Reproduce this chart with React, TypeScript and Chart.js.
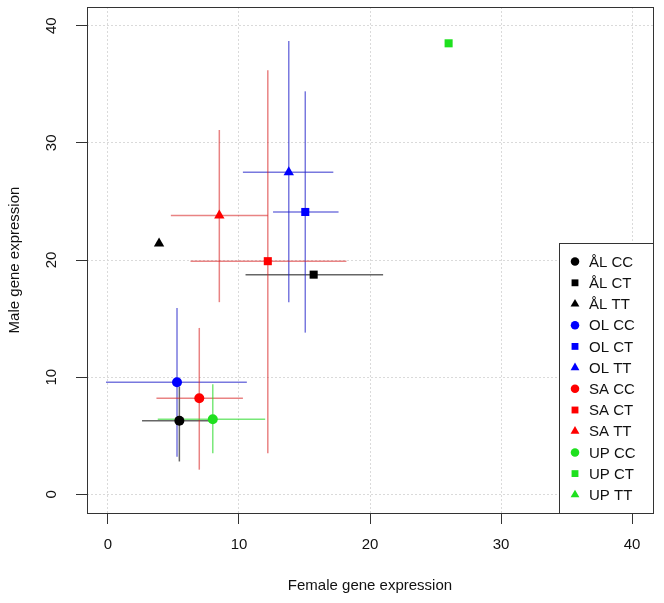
import React, { useEffect, useRef } from 'react';
import { Chart, registerables } from 'chart.js';

Chart.register(...registerables);

// ---- data ----
const groups = ['ÅL CC', 'ÅL CT', 'ÅL TT', 'OL CC', 'OL CT', 'OL TT', 'SA CC', 'SA CT', 'SA TT', 'UP CC', 'UP CT', 'UP TT'];
const femaleMean: (number | null)[] = [5.45, 15.7, 3.9, 5.27, 15.06, 13.8, 6.97, 12.2, 8.5, 8.0, 26.0, null];
const maleMean: (number | null)[] = [6.27, 18.75, 21.4, 9.57, 24.1, 27.5, 8.2, 19.9, 23.8, 6.4, 38.5, null];
const femaleLow: (number | null)[] = [2.6, 10.5, null, -0.15, 12.6, 10.3, 3.7, 6.3, 4.8, 3.8, null, null];
const femaleHigh: (number | null)[] = [8.0, 21.0, null, 10.6, 17.6, 17.2, 10.3, 18.2, 12.2, 12.0, null, null];
const maleLow: (number | null)[] = [2.8, null, null, 3.2, 13.8, 16.4, 2.1, 3.5, 16.4, 3.5, null, null];
const maleHigh: (number | null)[] = [9.2, null, null, 15.9, 34.4, 38.7, 14.2, 36.2, 31.1, 9.4, null, null];
const tickValues = [0, 10, 20, 30, 40];

// ---- styles ----
const pointColors = ['#000000', '#0000ff', '#ff0000', '#1ee01e'];
const barColors = ['rgba(0,0,0,0.6)', 'rgba(30,30,200,0.6)', 'rgba(215,30,30,0.55)', 'rgba(30,215,30,0.6)'];
const shapes = ['circle', 'rect', 'triangle'];
const radii = [5, 5.7, 6];
const FONT = "'Liberation Sans', Arial, Helvetica, sans-serif";

function drawShape(ctx: CanvasRenderingContext2D, shape: string, x: number, y: number, r: number, color: string) {
  ctx.save();
  ctx.fillStyle = color;
  ctx.beginPath();
  if (shape === 'circle') {
    ctx.arc(x, y, r, 0, Math.PI * 2);
  } else if (shape === 'rect') {
    const s = Math.SQRT1_2 * r;
    ctx.rect(x - s, y - s, 2 * s, 2 * s);
  } else {
    for (let k = 0; k < 3; k++) {
      const a = (k * 2 * Math.PI) / 3;
      const px = x + Math.sin(a) * r;
      const py = y - Math.cos(a) * r;
      if (k === 0) ctx.moveTo(px, py);
      else ctx.lineTo(px, py);
    }
    ctx.closePath();
  }
  ctx.fill();
  ctx.restore();
}

const errorBarPlugin = {
  id: 'errorBars',
  beforeDatasetsDraw(chart: any) {
    const { ctx, scales } = chart;
    const xs = scales.x;
    const ys = scales.y;
    ctx.save();
    ctx.lineWidth = 1.5;
    groups.forEach((_, i) => {
      const pop = Math.floor(i / 3);
      ctx.strokeStyle = barColors[pop];
      const fx = femaleMean[i];
      const my = maleMean[i];
      if (fx == null || my == null) return;
      const fl = femaleLow[i], fh = femaleHigh[i];
      if (fl != null && fh != null) {
        ctx.beginPath();
        ctx.moveTo(xs.getPixelForValue(fl), ys.getPixelForValue(my));
        ctx.lineTo(xs.getPixelForValue(fh), ys.getPixelForValue(my));
        ctx.stroke();
      }
      const ml = maleLow[i], mh = maleHigh[i];
      if (ml != null && mh != null) {
        ctx.beginPath();
        ctx.moveTo(xs.getPixelForValue(fx), ys.getPixelForValue(ml));
        ctx.lineTo(xs.getPixelForValue(fx), ys.getPixelForValue(mh));
        ctx.stroke();
      }
    });
    ctx.restore();
  },
};

const frameLegendPlugin = {
  id: 'frameLegend',
  afterDraw(chart: any) {
    const { ctx, chartArea } = chart;
    const { left, right, top, bottom } = chartArea;
    ctx.save();
    ctx.strokeStyle = '#333';
    ctx.lineWidth = 1;
    ctx.strokeRect(Math.round(left) + 0.5, Math.round(top) + 0.5, Math.round(right - left), Math.round(bottom - top));

    // legend box (bottom-right, inside plot)
    const rowH = 21.2;
    const padV = 9;
    const boxW = 94;
    const boxH = groups.length * rowH + padV * 2 - 2;
    const bx = Math.round(right - boxW);
    const by = Math.round(bottom - boxH);
    ctx.fillStyle = '#ffffff';
    ctx.fillRect(bx, by, boxW, boxH);
    ctx.strokeStyle = '#333';
    ctx.strokeRect(bx + 0.5, by + 0.5, Math.round(right) - bx, Math.round(bottom) - by);
    ctx.font = `15px ${FONT}`;
    ctx.textBaseline = 'middle';
    ctx.textAlign = 'left';
    groups.forEach((g, i) => {
      const pop = Math.floor(i / 3);
      const gen = i % 3;
      const cy = by + padV + rowH / 2 + i * rowH - 1;
      drawShape(ctx, shapes[gen], bx + 16, cy, radii[gen] * 0.85, pointColors[pop]);
      ctx.fillStyle = '#111';
      ctx.fillText(g, bx + 30, cy + 1);
    });
    ctx.restore();
  },
};

function makeTicks(scale: any) {
  scale.ticks = tickValues.map((v) => ({ value: v }));
}

function zeroPadding(s: any) {
  s.paddingTop = 0;
  s.paddingBottom = 0;
  s.paddingLeft = 0;
  s.paddingRight = 0;
}

export default function App() {
  const canvasRef = useRef<HTMLCanvasElement | null>(null);

  useEffect(() => {
    const canvas = canvasRef.current;
    if (!canvas) return;
    const datasets = groups.map((g, i) => {
      const pop = Math.floor(i / 3);
      const gen = i % 3;
      const fx = femaleMean[i];
      const my = maleMean[i];
      return {
        label: g,
        data: fx != null && my != null ? [{ x: fx, y: my }] : [],
        pointStyle: shapes[gen],
        pointRadius: radii[gen],
        pointHoverRadius: radii[gen],
        backgroundColor: pointColors[pop],
        borderColor: pointColors[pop],
        borderWidth: 0,
        showLine: false,
      };
    });

    const tickFont = { family: FONT, size: 15 };
    const chart = new Chart(canvas, {
      type: 'scatter',
      data: { datasets },
      plugins: [errorBarPlugin, frameLegendPlugin],
      options: {
        animation: false,
        responsive: false,
        devicePixelRatio: 1,
        layout: { padding: { top: 7, right: 11, left: 0, bottom: 0 } },
        plugins: {
          legend: { display: false },
          tooltip: { enabled: false },
        },
        scales: {
          x: {
            type: 'linear',
            min: -1.6,
            max: 41.6,
            afterBuildTicks: makeTicks,
            afterFit: (s: any) => {
              s.height = 90;
              zeroPadding(s);
            },
            grid: {
              color: '#dadada',
              lineWidth: 1,
              drawTicks: true,
              tickLength: 11,
              tickColor: '#333',
              tickWidth: 1,
            },
            border: { display: false, dash: [2, 2] },
            ticks: {
              font: tickFont,
              color: '#111',
              padding: 12,
              maxRotation: 0,
              autoSkip: false,
            },
            title: {
              display: true,
              text: 'Female gene expression',
              font: { family: FONT, size: 15 },
              color: '#111',
              padding: { top: 0, bottom: 8 },
            },
          },
          y: {
            type: 'linear',
            min: -1.6,
            max: 41.6,
            afterBuildTicks: makeTicks,
            afterFit: (s: any) => {
              s.width = 87;
              zeroPadding(s);
            },
            grid: {
              color: '#dadada',
              lineWidth: 1,
              drawTicks: true,
              tickLength: 11,
              tickColor: '#333',
              tickWidth: 1,
            },
            border: { display: false, dash: [2, 2] },
            ticks: {
              font: tickFont,
              color: '#111',
              padding: 16,
              minRotation: 90,
              maxRotation: 90,
              crossAlign: 'center',
              autoSkip: false,
            },
            title: {
              display: true,
              text: 'Male gene expression',
              font: { family: FONT, size: 15 },
              color: '#111',
              padding: { top: 6, bottom: 0 },
            },
          },
        },
      },
    } as any);
    return () => chart.destroy();
  }, []);

  return (
    <div style={{ position: 'absolute', left: 0, top: 0, width: 664, height: 603, background: '#fff' }}>
      <canvas ref={canvasRef} width={664} height={603} style={{ display: 'block' }} />
    </div>
  );
}
